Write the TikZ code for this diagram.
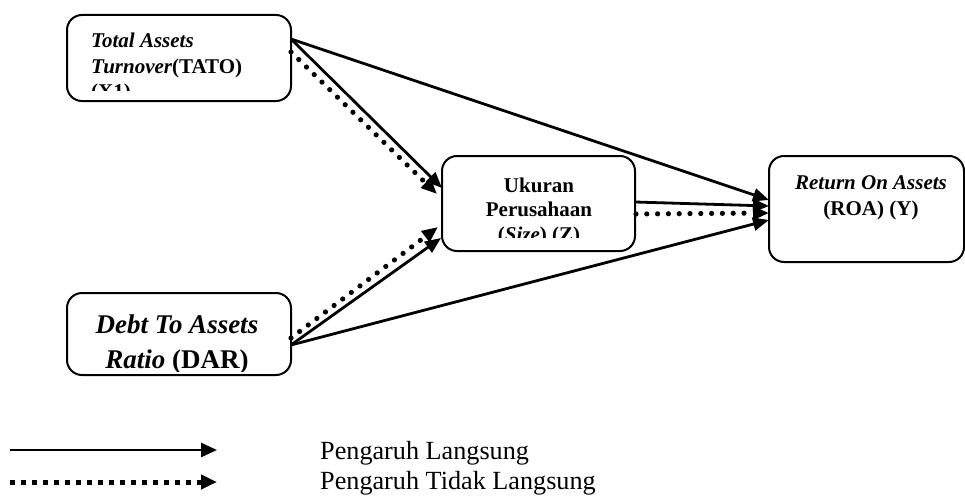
\documentclass[tikz,border=0pt]{standalone}
\usepackage{fontspec}
\setmainfont{Liberation Serif}
\usetikzlibrary{arrows.meta}
\begin{document}
\begin{tikzpicture}[x=1pt,y=-1pt,
  box/.style={draw, line width=2pt, rounded corners=15pt, inner sep=0pt},
  txt/.style={inner sep=0pt},
  direct/.style={line width=2.8pt, -{Triangle[length=16pt,width=13pt]}},
  indirect/.style={line width=5.2pt, line cap=round, dash pattern=on 0pt off 10.8pt, -{Triangle[length=16pt,width=13pt]}},
  legsolid/.style={line width=2.8pt, -{Triangle[length=16pt,width=14pt]}},
  legdot/.style={line width=5pt, dash pattern=on 5pt off 6pt, -{Triangle[length=16pt,width=14pt]}},
  f20/.style={font=\fontsize{21}{25}\selectfont\bfseries},
  f26/.style={font=\fontsize{27}{33}\selectfont\bfseries},
  leg/.style={font=\fontsize{26.2}{30}\selectfont, inner sep=0pt}
]
\useasboundingbox (0,0) rectangle (965,495);

% boxes
\node[box, minimum width=224pt, minimum height=86pt] (x1) at (179,58) {};
\node[box, minimum width=224pt, minimum height=82pt] (dar) at (179,334) {};
\node[box, minimum width=193pt, minimum height=95pt] (z) at (538.5,203.5) {};
\node[box, minimum width=195pt, minimum height=106pt] (y) at (866.5,209) {};

% texts X1
\begin{scope}
\clip (67,15) rectangle (291,90);
\node[txt, f20, anchor=base west] (t1a) at (91,48) {\itshape Total Assets};
\node[txt, f20, anchor=base west] (t1b) at (91,73) {\itshape Turnover\upshape(TATO)};
\node[txt, f20, anchor=base west] (t1c) at (91,98) {(X1)};
\end{scope}

% texts DAR
\begin{scope}
\clip (67,293) rectangle (291,371.5);
\node[txt, f26, anchor=base] (t2a) at (177,333) {\itshape Debt To Assets};
\node[txt, f26, anchor=base] (t2b) at (177,368) {\itshape Ratio \upshape(DAR)};
\end{scope}

% texts Z
\begin{scope}
\clip (442,156) rectangle (635,237);
\node[txt, f20, anchor=base] (t3a) at (539,192) {Ukuran};
\node[txt, f20, anchor=base] (t3b) at (539,216) {Perusahaan};
\node[txt, f20, anchor=base] (t3c) at (539,241) {(\textit{Size}) (Z)};
\end{scope}

% texts Y
\node[txt, f20, anchor=base] (t4a) at (871,189) {\itshape Return On Assets};
\node[txt, f20, anchor=base] (t4b) at (871,215) {(ROA) (Y)};

% connector end points
\coordinate (x1s) at (291,39);
\coordinate (x1d) at (291,52);
\coordinate (dars) at (291,345);
\coordinate (dard) at (291,338);
\coordinate (zs) at (635,202);
\coordinate (zd) at (636,214);
\coordinate (zin1) at (442,188);
\coordinate (zin2) at (437,194);
\coordinate (zin3) at (438,227);
\coordinate (zin4) at (441,238);
\coordinate (yin1) at (769,200);
\coordinate (yin2) at (769,206);
\coordinate (yin3) at (769,213);
\coordinate (yin4) at (769,220);

% connectors
\draw[direct] (x1s) -- (yin1);
\draw[direct] (x1s) -- (zin1);
\draw[indirect] (x1d) -- (zin2);
\draw[indirect] (dard) -- (zin3);
\draw[direct] (dars) -- (zin4);
\draw[direct] (dars) -- (yin4);
\draw[direct] (zs) -- (yin2);
\draw[indirect] (zd) -- (yin3);

% legend
\coordinate (l1a) at (10,450);
\coordinate (l1b) at (217,450);
\coordinate (l2a) at (10,482);
\coordinate (l2b) at (217,482);
\draw[legsolid] (l1a) -- (l1b);
\draw[legdot] (l2a) -- (l2b);
\node[leg, anchor=base west] (lt1) at (320,459) {Pengaruh Langsung};
\node[leg, anchor=base west] (lt2) at (320,489) {Pengaruh Tidak Langsung};
\end{tikzpicture}
\end{document}
